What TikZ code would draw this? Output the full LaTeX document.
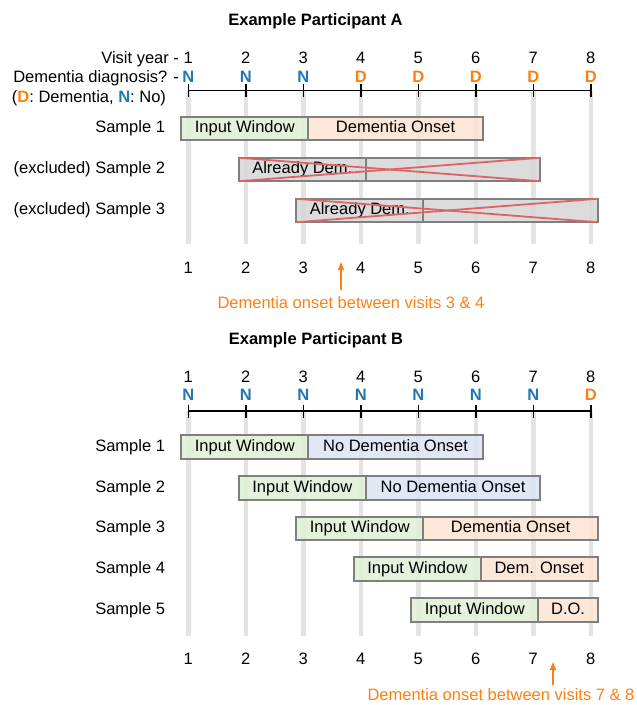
\documentclass[tikz,border=0pt]{standalone}
\usepackage{fontspec}
\setmainfont{Liberation Sans}
\usetikzlibrary{arrows.meta}
\definecolor{nblue}{HTML}{1F77B4}
\definecolor{dorange}{HTML}{FF7F0E}
\definecolor{grnfill}{HTML}{DFF0D6}
\definecolor{orgfill}{HTML}{FBE3D2}
\definecolor{blufill}{HTML}{DAE3F3}
\definecolor{grayfill}{HTML}{D6D6D6}
\definecolor{segline}{HTML}{7F7F7F}
\definecolor{vgray}{HTML}{E3E3E3}
\definecolor{crossred}{HTML}{DD6464}
\newcommand\visitx[1]{188.3+57.5*(#1-1)}
\newcommand\mysamplebar[7]{%
  \pgfmathsetmacro\barL{188.3+57.5*(#2-1)-7}%
  \pgfmathsetmacro\barS{188.3+57.5*(#2+1)+5}%
  \pgfmathsetmacro\barR{min(188.3+57.5*(#2+4)+7,597.8)}%
  \pgfmathsetmacro\barWL{\barS-\barL}%
  \pgfmathsetmacro\barWR{\barR-\barS}%
  \node[seg, fill=#4, anchor=west, minimum width=\barWL pt] (#1i) at (\barL,#3) {#5};
  \node[seg, fill=#6, anchor=west, minimum width=\barWR pt] (#1o) at (#1i.east) {#7};
}
\begin{document}
\begin{tikzpicture}[x=1pt,y=-1pt,
  every node/.style={font=\fontsize{16.5}{19}\selectfont, inner sep=0pt, outer sep=0pt, text height=12pt, text depth=3.5pt},
  seg/.style={draw=segline, line width=1.7pt, minimum height=23.5pt, fill opacity=0.85, text opacity=1},
  vline/.style={vgray, line width=4.5pt},
  axisline/.style={black, line width=1.5pt},
  redx/.style={crossred, line width=1.8pt},
  oarrow/.style={dorange, line width=1.5pt, -{Triangle[width=6pt,length=8pt]}},
  lbl/.style={anchor=east},
  titletext/.style={font=\fontsize{16.5}{19}\selectfont\bfseries},
  nlet/.style={text=nblue, font=\fontsize{16.5}{19}\selectfont\bfseries},
  dlet/.style={text=dorange, font=\fontsize{16.5}{19}\selectfont\bfseries},
  otext/.style={text=dorange}]
\useasboundingbox (0,0) rectangle (637,705);

% ---------------- Participant A ----------------
\node[titletext] (titleA) at (315.5,21.5) {Example Participant A};
\node[lbl] (visA) at (179,59.5) {Visit year -};
\node[lbl] (diagA) at (179,78) {Dementia diagnosis? -};
\node[lbl] (legA) at (166,98.5) {(\textcolor{dorange}{\textbf{D}}: Dementia, \textcolor{nblue}{\textbf{N}}: No)};

\foreach \i in {1,...,8} {
  \draw[vline] ({\visitx{\i}},90.5) -- ({\visitx{\i}},244);
  \node (anumT\i) at ({\visitx{\i}},59.5) {\i};
  \node (anumB\i) at ({\visitx{\i}},269.5) {\i};
}
\foreach \i/\s/\c in {1/nlet/N,2/nlet/N,3/nlet/N,4/dlet/D,5/dlet/D,6/dlet/D,7/dlet/D,8/dlet/D}
  \node[\s] (adx\i) at ({\visitx{\i}},78) {\c};
\draw[axisline] ({\visitx{1}},90.5) -- ({\visitx{8}},90.5);
\foreach \i in {1,...,8}
  \draw[axisline] ({\visitx{\i}},84) -- ({\visitx{\i}},97);

\node[lbl] (aS1) at (165,128.5) {Sample 1};
\node[lbl] (aS2) at (165,169.5) {(excluded) Sample 2};
\node[lbl] (aS3) at (165,210.5) {(excluded) Sample 3};

\mysamplebar{aone}{1}{128.5}{grnfill}{Input Window}{orgfill}{Dementia Onset}
\mysamplebar{atwo}{2}{169.5}{grayfill}{Already Dem.}{grayfill}{}
\mysamplebar{athree}{3}{210.5}{grayfill}{Already Dem.}{grayfill}{}
\draw[redx] (atwoi.north west) -- (atwoo.south east);
\draw[redx] (atwoi.south west) -- (atwoo.north east);
\draw[redx] (athreei.north west) -- (athreeo.south east);
\draw[redx] (athreei.south west) -- (athreeo.north east);

\node[otext] (onsetA) at (351,304.5) {Dementia onset between visits 3 \& 4};
\coordinate (arrAtail) at (341,290);
\coordinate (arrAhead) at (341,262);
\draw[oarrow] (arrAtail) -- (arrAhead);

% ---------------- Participant B ----------------
\node[titletext] (titleB) at (316,340.5) {Example Participant B};
\foreach \i in {1,...,8} {
  \draw[vline] ({\visitx{\i}},411) -- ({\visitx{\i}},636);
  \node (bnumT\i) at ({\visitx{\i}},378.5) {\i};
  \node (bnumB\i) at ({\visitx{\i}},660.5) {\i};
}
\foreach \i/\s/\c in {1/nlet/N,2/nlet/N,3/nlet/N,4/nlet/N,5/nlet/N,6/nlet/N,7/nlet/N,8/dlet/D}
  \node[\s] (bdx\i) at ({\visitx{\i}},396.5) {\c};
\draw[axisline] ({\visitx{1}},411) -- ({\visitx{8}},411);
\foreach \i in {1,...,8}
  \draw[axisline] ({\visitx{\i}},404.5) -- ({\visitx{\i}},417.5);

\node[lbl] (bS1) at (165,447) {Sample 1};
\node[lbl] (bS2) at (165,488) {Sample 2};
\node[lbl] (bS3) at (165,528.5) {Sample 3};
\node[lbl] (bS4) at (165,569) {Sample 4};
\node[lbl] (bS5) at (165,610) {Sample 5};

\mysamplebar{bone}{1}{447}{grnfill}{Input Window}{blufill}{No Dementia Onset}
\mysamplebar{btwo}{2}{488}{grnfill}{Input Window}{blufill}{No Dementia Onset}
\mysamplebar{bthree}{3}{528.5}{grnfill}{Input Window}{orgfill}{Dementia Onset}
\mysamplebar{bfour}{4}{569}{grnfill}{Input Window}{orgfill}{Dem. Onset}
\mysamplebar{bfive}{5}{610}{grnfill}{Input Window}{orgfill}{D.O.}

\node[otext] (onsetB) at (501,696) {Dementia onset between visits 7 \& 8};
\coordinate (arrBtail) at (553,685);
\coordinate (arrBhead) at (553,662);
\draw[oarrow] (arrBtail) -- (arrBhead);
\end{tikzpicture}
\end{document}
